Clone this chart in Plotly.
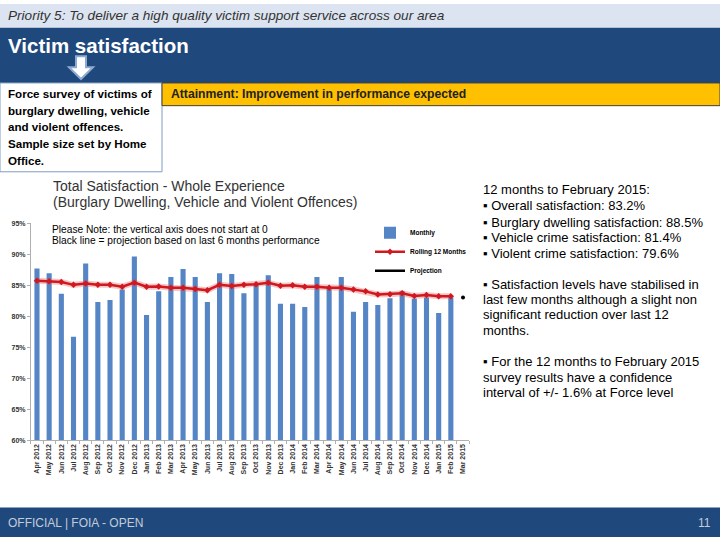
import plotly.graph_objects as go

months = ["Apr 2012", "May 2012", "Jun 2012", "Jul 2012", "Aug 2012", "Sep 2012",
          "Oct 2012", "Nov 2012", "Dec 2012", "Jan 2013", "Feb 2013", "Mar 2013",
          "Apr 2013", "May 2013", "Jun 2013", "Jul 2013", "Aug 2013", "Sep 2013",
          "Oct 2013", "Nov 2013", "Dec 2013", "Jan 2014", "Feb 2014", "Mar 2014",
          "Apr 2014", "May 2014", "Jun 2014", "Jul 2014", "Aug 2014", "Sep 2014",
          "Oct 2014", "Nov 2014", "Dec 2014", "Jan 2015", "Feb 2015", "Mar 2015"]

monthly = [87.7, 86.9, 83.6, 76.7, 88.5, 82.3, 82.6, 84.3, 89.6, 80.2,
           84.0, 86.3, 87.6, 86.3, 82.3, 86.9, 86.8, 83.7, 85.0, 86.6,
           82.0, 82.0, 81.5, 86.3, 84.5, 86.3, 80.7, 82.3, 81.8, 82.9,
           84.0, 82.8, 83.0, 80.5, 83.0, None]

rolling12 = [85.7, 85.65, 85.5, 85.05, 85.25, 85.05, 85.05, 84.75, 85.4, 84.75,
             84.8, 84.6, 84.6, 84.4, 84.2, 85.05, 84.85, 85.05, 85.15, 85.4,
             84.9, 85.0, 84.75, 84.75, 84.6, 84.6, 84.3, 84.0, 83.5, 83.55,
             83.7, 83.25, 83.4, 83.2, 83.2, None]

projection_months = ["Mar 2015"]
projection = [83.0]

yticks = [60, 65, 70, 75, 80, 85, 90, 95]
yticklabels = ["60%", "65%", "70%", "75%", "80%", "85%", "90%", "95%"]

W, H = 720, 540


def px(x):
    return x / W


def py(y):
    return 1 - y / H


fig = go.Figure()
fig.add_trace(go.Bar(x=months, y=monthly, name="Monthly",
                     marker=dict(color="#5585c5", line=dict(width=0))))
# soft glow under the rolling line
fig.add_trace(go.Scatter(x=months, y=rolling12, mode="lines", showlegend=False,
                         line=dict(color="rgba(230,90,90,0.35)", width=6),
                         hoverinfo="skip"))
fig.add_trace(go.Scatter(x=months, y=rolling12, mode="lines+markers",
                         name="Rolling 12 Months",
                         line=dict(color="#d01820", width=2.5),
                         marker=dict(color="#d01820", size=5, symbol="diamond")))
fig.add_trace(go.Scatter(x=projection_months, y=projection, mode="markers",
                         showlegend=False,
                         marker=dict(color="black", size=4)))
fig.add_trace(go.Scatter(x=[None], y=[None], mode="lines", name="Projection",
                         line=dict(color="black", width=2.5)))

shapes = []
shapes.append(dict(type="rect", xref="paper", yref="paper", x0=0, x1=1,
                   y0=py(24), y1=py(0), fillcolor="#dbe4f0", line=dict(width=0), layer="below"))
shapes.append(dict(type="rect", xref="paper", yref="paper", x0=0, x1=1,
                   y0=py(80), y1=py(24), fillcolor="#1f497d", line=dict(width=0), layer="below"))
shapes.append(dict(type="rect", xref="paper", yref="paper", x0=0, x1=1,
                   y0=0, y1=py(510), fillcolor="#1f497d", line=dict(width=0), layer="below"))
shapes.append(dict(type="rect", xref="paper", yref="paper", x0=px(0), x1=px(162),
                   y0=py(170), y1=py(80), fillcolor="white",
                   line=dict(color="#7f9cc0", width=1), layer="below"))
shapes.append(dict(type="rect", xref="paper", yref="paper", x0=px(162), x1=px(720),
                   y0=py(103), y1=py(80), fillcolor="#ffc000",
                   line=dict(color="#404040", width=1), layer="below"))
ax = 81
path = (f"M {px(ax-5)},{py(53)} L {px(ax+5)},{py(53)} L {px(ax+5)},{py(64)} "
        f"L {px(ax+12)},{py(64)} L {px(ax)},{py(76)} L {px(ax-12)},{py(64)} "
        f"L {px(ax-5)},{py(64)} Z")
shapes.append(dict(type="path", xref="paper", yref="paper", path=path,
                   fillcolor="white", line=dict(color="#8eaad0", width=2)))

SANS = "Liberation Sans, Arial"
ann = []
ann.append(dict(text="<i>Priority 5: To deliver a high quality victim support service across our area</i>",
                x=px(6), y=py(12), xanchor="left", yanchor="middle",
                font=dict(family=SANS, size=13.6, color="#333333")))
ann.append(dict(text="<b>Victim satisfaction</b>", x=px(6), y=py(42), xanchor="left", yanchor="middle",
                font=dict(family=SANS, size=20.5, color="white")))
left_lines = ["Force survey of victims of", "burglary dwelling, vehicle",
              "and violent offences.", "Sample size set by Home", "Office."]
for i, t in enumerate(left_lines):
    ann.append(dict(text="<b>" + t + "</b>", x=px(6), y=py(91 + i * 16.8), xanchor="left", yanchor="middle",
                    font=dict(family=SANS, size=11.6, color="black")))
ann.append(dict(text="<b>Attainment: Improvement in performance expected</b>", x=px(169), y=py(91.5),
                xanchor="left", yanchor="middle",
                font=dict(family=SANS, size=12.2, color="#222222")))
ann.append(dict(text="Total Satisfaction - Whole Experience", x=px(51), y=py(184), xanchor="left", yanchor="middle",
                font=dict(family=SANS, size=14, color="#333333")))
ann.append(dict(text="(Burglary Dwelling, Vehicle and Violent Offences)", x=px(51), y=py(201), xanchor="left",
                yanchor="middle", font=dict(family=SANS, size=14, color="#333333")))
ann.append(dict(text="Please Note: the vertical axis does not start at 0", x=px(50), y=py(228), xanchor="left",
                yanchor="middle", font=dict(family=SANS, size=10.2, color="black")))
ann.append(dict(text="Black line = projection based on last 6 months performance", x=px(50), y=py(240),
                xanchor="left", yanchor="middle", font=dict(family=SANS, size=10.2, color="black")))

right_lines = [(188, "12 months to February 2015:"),
               (204, "▪ Overall satisfaction: 83.2%"),
               (221, "▪ Burglary dwelling satisfaction: 88.5%"),
               (237, "▪ Vehicle crime satisfaction: 81.4%"),
               (253, "▪ Violent crime satisfaction: 79.6%"),
               (284, "▪ Satisfaction levels have stabilised in"),
               (299, "last few months although a slight non"),
               (315, "significant reduction over last 12"),
               (331, "months."),
               (362, "▪ For the 12 months to February 2015"),
               (378, "survey results have a confidence"),
               (394, "interval of +/- 1.6% at Force level")]
for yy, t in right_lines:
    ann.append(dict(text=t, x=px(481), y=py(yy), xanchor="left", yanchor="middle",
                    font=dict(family=SANS, size=13, color="black")))

ann.append(dict(text="OFFICIAL | FOIA - OPEN", x=px(6), y=py(526), xanchor="left", yanchor="middle",
                font=dict(family=SANS, size=12, color="#c3cbd8")))
ann.append(dict(text="11", x=px(713), y=py(526), xanchor="right", yanchor="middle",
                font=dict(family=SANS, size=12, color="#c3cbd8")))
for a in ann:
    a.update(xref="paper", yref="paper", showarrow=False)

fig.update_layout(
    width=W, height=H, margin=dict(l=0, r=0, t=0, b=0),
    paper_bgcolor="white", plot_bgcolor="white",
    shapes=shapes, annotations=ann,
    bargap=0.58, showlegend=True,
    legend=dict(x=px(370), y=py(217), xanchor="left", yanchor="top",
                font=dict(family=SANS, size=6.5, color="black", weight="bold"),
                bgcolor="rgba(0,0,0,0)", tracegroupgap=0, itemwidth=30),
    xaxis=dict(domain=[px(30.9), px(469.1)], range=[-0.5, 35.5], type="category",
               tickangle=-90, tickfont=dict(family=SANS, size=7, color="#333333", weight="bold"),
               showline=True, linecolor="#b0b0b0", linewidth=1, ticks="outside", ticklen=3,
               tickcolor="#b0b0b0", tickson="boundaries", showgrid=False),
    yaxis=dict(domain=[py(442), py(222)], range=[60, 95], tickvals=yticks, ticktext=yticklabels,
               tickfont=dict(family=SANS, size=7, color="#333333", weight="bold"),
               showline=True, linecolor="#b0b0b0", linewidth=1, ticks="outside", ticklen=3,
               tickcolor="#b0b0b0", showgrid=False, zeroline=False),
)

fig.write_html("out.html", config={"displayModeBar": False},
               post_script="document.body.style.margin='0';document.body.style.overflow='hidden';")
